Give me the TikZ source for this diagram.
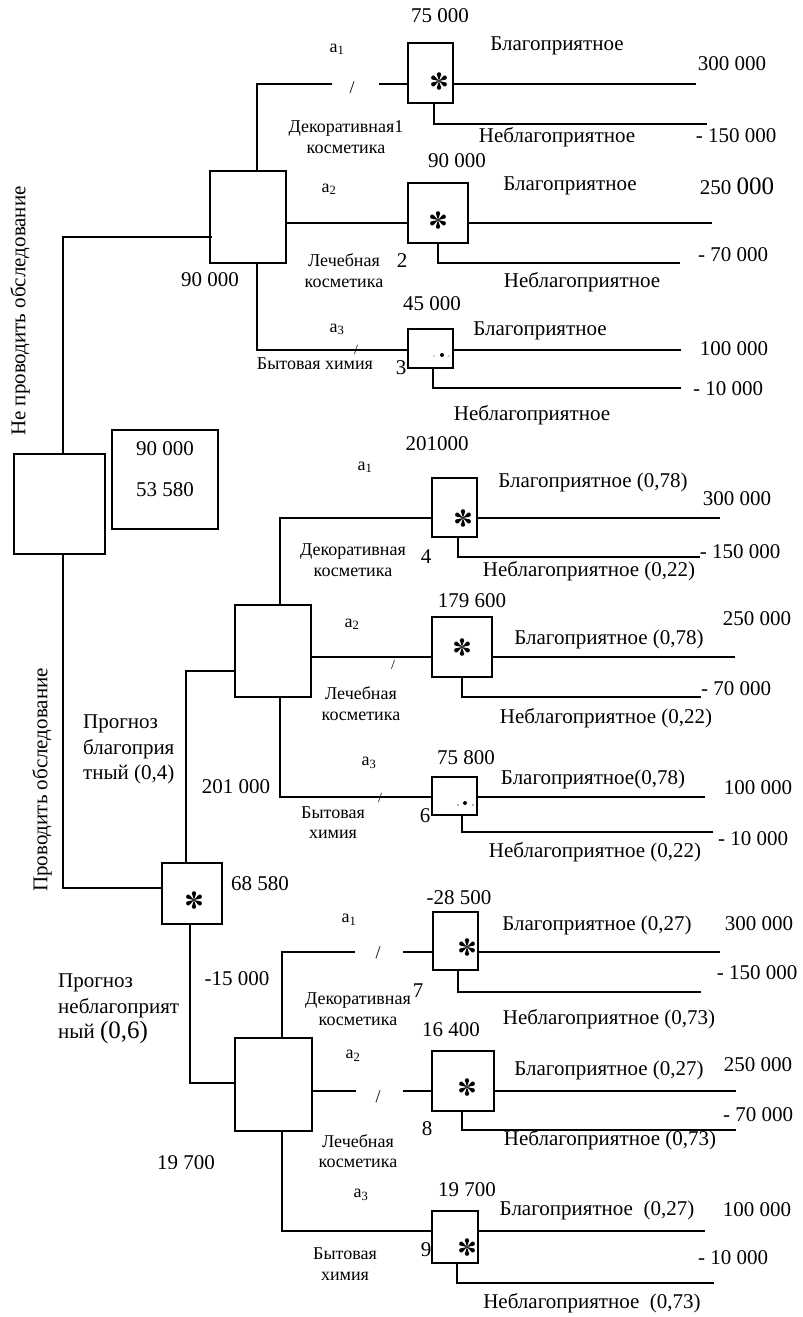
\documentclass[tikz,border=0pt]{standalone}
\usepackage{fontspec}
\setmainfont{Liberation Serif}
\newcommand\mainsz{\fontsize{21}{25.5}\selectfont}
\newcommand\smallsz{\fontsize{18}{20.5}\selectfont}
\newcommand\ticksz{\fontsize{14}{16}\selectfont}
\newcommand\bigsz{\fontsize{25}{28}\selectfont}
% payoff lines of a chance node: node, upper y, upper end x, knee x, lower y, lower end x
\newcommand\payoffs[6]{%
  \coordinate (#1up) at (#3,#2);
  \coordinate (#1kn) at (#4,#5);
  \coordinate (#1dn) at (#6,#5);
  \draw[wire] (#1.east |- #1up) -- (#1up);
  \draw[wire] (#1.south -| #1kn) -- (#1kn) -- (#1dn);
}
\tikzset{
  wire/.style={line width=1.6pt},
  dbox/.style={draw, line width=1.6pt, fill=white, inner sep=0pt},
  lab/.style={inner sep=0pt, font=\mainsz, text height=0.68em, text depth=0.2em},
  labs/.style={inner sep=0pt, font=\smallsz, text height=0.68em, text depth=0.2em},
  labtwo/.style={inner sep=0pt, font=\smallsz, align=center},
  labblock/.style={inner sep=0pt, font=\mainsz, align=left, anchor=west},
  slash/.style={inner sep=0pt, font=\smallsz},
  tickmark/.style={inner sep=0pt, font=\ticksz},
  % six teardrop spokes marking a chance node
  chancemark/.pic={
    \foreach \a in {90,30,-30,-90,-150,150}{
      \fill[rotate=\a] (0,0) -- (6.3,-2.0) -- (6.3,2.0) -- cycle (6.6,0) circle (2.2);
    }
  },
}
\begin{document}
\begin{tikzpicture}[x=1pt,y=-1pt]
\useasboundingbox (0,0) rectangle (803,1317);

% ---- boxes ----
\node[dbox, minimum width=91pt, minimum height=100pt] (root) at (59.5,504) {};
\node[dbox, minimum width=106pt, minimum height=99pt] (info) at (165,479.5) {};
\node[dbox, minimum width=76pt, minimum height=92pt] (D1) at (248,217) {};
\node[dbox, minimum width=45pt, minimum height=60pt] (C1) at (430.5,73) {};
\node[dbox, minimum width=60pt, minimum height=60pt] (C2) at (438,213) {};
\node[dbox, minimum width=45pt, minimum height=39pt] (C3) at (430.5,348.5) {};
\node[dbox, minimum width=60pt, minimum height=61pt] (S) at (192,893.5) {};
\node[dbox, minimum width=76pt, minimum height=92pt] (D2) at (273,651) {};
\node[dbox, minimum width=45pt, minimum height=59pt] (C4) at (454.5,507.5) {};
\node[dbox, minimum width=60pt, minimum height=60pt] (C5) at (462,647) {};
\node[dbox, minimum width=45pt, minimum height=38pt] (C6) at (454.5,796) {};
\node[dbox, minimum width=77pt, minimum height=93pt] (D3) at (273.5,1084.5) {};
\node[dbox, minimum width=45pt, minimum height=58pt] (C7) at (455.5,941) {};
\node[dbox, minimum width=62pt, minimum height=60pt] (C8) at (463,1081) {};
\node[dbox, minimum width=46pt, minimum height=52pt] (C9) at (455,1237) {};

% ---- chance marks ----
\pic (m1) at (439,81) {chancemark};
\pic (m2) at (438,220) {chancemark};
\pic (m4) at (463,518) {chancemark};
\pic (m5) at (462,647) {chancemark};
\pic (m7) at (467,947) {chancemark};
\pic (m8) at (467,1087) {chancemark};
\pic (m9) at (467,1247) {chancemark};
\pic (mS) at (194,900) {chancemark};
\fill (442,355) circle (2pt);
\fill[black!35] (434,356) circle (0.8pt);
\fill[black!35] (449,356) circle (0.8pt);
\fill (465,803) circle (2pt);
\fill[black!60] (458,805) circle (0.9pt);
\fill[black!60] (473,805) circle (0.9pt);

% ---- root connectors ----
\coordinate (k0) at (63,237);
\draw[wire] ([xshift=3pt]D1.west |- k0) -- (k0) -- (root.north -| k0);
\coordinate (k1) at (63,888);
\draw[wire] (root.south -| k1) -- (k1) -- (S.west |- k1);
\coordinate (k2) at (186,671);
\draw[wire] (S.north -| k2) -- (k2) -- (D2.west |- k2);
\coordinate (k3) at (190,1083);
\draw[wire] (S.south -| k3) -- (k3) -- (D3.west |- k3);

% ---- first decision ----
\coordinate (v1) at (257,84);
\coordinate (g1a) at (332,84);
\coordinate (g1b) at (379,84);
\draw[wire] (D1.north -| v1) -- (v1) -- (g1a);
\draw[wire] (g1b) -- (C1.west |- g1b);
\node[slash] (s1) at (352,88) {/};
\coordinate (h2) at (0,223);
\draw[wire] (D1.east |- h2) -- (C2.west |- h2);
\coordinate (v3) at (257,350);
\draw[wire] (D1.south -| v3) -- (v3) -- (C3.west |- v3);
\node[tickmark] (s3) at (356,350) {/};
\payoffs{C1}{84}{696}{434}{124}{707}
\payoffs{C2}{223}{712}{438}{263}{680}
\payoffs{C3}{350}{681}{433}{388}{681}

% ---- second decision ----
\coordinate (v4) at (280,518);
\draw[wire] (D2.north -| v4) -- (v4) -- (C4.west |- v4);
\coordinate (h5) at (0,657);
\draw[wire] (D2.east |- h5) -- (C5.west |- h5);
\node[tickmark] (s5) at (393,665) {/};
\coordinate (v6) at (280,797);
\draw[wire] (D2.south -| v6) -- (v6) -- (C6.west |- v6);
\node[tickmark] (s6) at (380,798) {/};
\payoffs{C4}{518}{720}{458}{557}{700}
\payoffs{C5}{657}{735}{462}{697}{701}
\payoffs{C6}{797}{705}{462}{832}{713}

% ---- third decision ----
\coordinate (v7) at (282,952);
\coordinate (g7a) at (355,952);
\coordinate (g7b) at (403,952);
\draw[wire] (D3.north -| v7) -- (v7) -- (g7a);
\draw[wire] (g7b) -- (C7.west |- g7b);
\node[slash] (s7) at (378,953) {/};
\coordinate (g8a) at (356,1091);
\coordinate (g8b) at (403,1091);
\draw[wire] (D3.east |- g8a) -- (g8a);
\draw[wire] (g8b) -- (C8.west |- g8b);
\node[slash] (s8) at (378,1097) {/};
\coordinate (v9) at (282,1231);
\draw[wire] (D3.south -| v9) -- (v9) -- (C9.west |- v9);
\payoffs{C7}{952}{720}{458}{992}{701}
\payoffs{C8}{1091}{736}{462}{1130}{736}
\payoffs{C9}{1231}{705}{457}{1283}{714}

% ---- left labels ----
\node[lab, rotate=90] (tno) at (23,311) {Не проводить обследование};
\node[lab, rotate=90] (tyes) at (45,780) {Проводить обследование};
\node[lab] (i1) at (165,453) {90 000};
\node[lab] (i2) at (165,494) {53 580};
\node[lab] (vD1) at (210,284) {90 000};
\node[labblock] (pg) at (83,749.5) {Прогноз\\благоприя\\тный (0,4)};
\node[lab] (vD2) at (236,791) {201 000};
\node[lab] (vS) at (260,888) {68 580};
\node[labblock] (pb) at (58,1009) {Прогноз\\неблагоприят\\ный {\bigsz(0,6)}};
\node[lab] (vD3) at (237,983) {-15 000};
\begin{scope}
  \clip (140,1140) rectangle (240,1168);
  \node[lab] (vD3b) at (186,1167) {19 700};
\end{scope}

% ---- labels, first decision ----
\node[lab] at (440,20) {75 000};
\node[labs] at (337,50) {a\textsubscript{1}};
\node[lab] at (557,48) {Благоприятное};
\node[lab] at (732,68) {300 000};
\node[labtwo] at (346,137) {Декоративная1\\косметика};
\node[lab] at (557,140) {Неблагоприятное};
\node[lab] at (736,140) {- 150 000};
\node[lab] at (457,165) {90 000};
\node[labs] at (329,190) {a\textsubscript{2}};
\node[lab] at (570,188) {Благоприятное};
\node[lab] at (737,192) {250 {\bigsz 000}};
\node[lab] at (733,259) {- 70 000};
\node[labtwo] at (344,270.5) {Лечебная\\косметика};
\node[lab] at (402,265) {2};
\node[lab] at (582,285) {Неблагоприятное};
\node[lab] at (432,308) {45 000};
\node[labs] at (337,330) {a\textsubscript{3}};
\node[lab] at (540,333) {Благоприятное};
\node[lab] at (734,353) {100 000};
\node[labs] at (315,367) {Бытовая химия};
\node[lab] at (401,372) {3};
\node[lab] at (728,393) {- 10 000};
\node[lab] at (532,418) {Неблагоприятное};

% ---- labels, second decision ----
\node[lab] at (437,448) {201000};
\node[labs] at (365,468) {a\textsubscript{1}};
\node[lab] at (593,485) {Благоприятное (0,78)};
\node[lab] at (737,503) {300 000};
\node[labtwo] at (353,560) {Декоративная\\косметика};
\node[lab] at (426,561) {4};
\node[lab] at (740,556) {- 150 000};
\node[lab] at (589,574) {Неблагоприятное (0,22)};
\node[lab] at (472,605) {179 600};
\node[labs] at (352,625) {a\textsubscript{2}};
\node[lab] at (757,623) {250 000};
\node[lab] at (609,642) {Благоприятное (0,78)};
\node[lab] at (736,693) {- 70 000};
\node[labtwo] at (361,703.5) {Лечебная\\косметика};
\node[lab] at (606,721) {Неблагоприятное (0,22)};
\node[labs] at (369,763) {a\textsubscript{3}};
\node[lab] at (466,762) {75 800};
\node[lab] at (593,782) {Благоприятное(0,78)};
\node[lab] at (758,792) {100 000};
\node[labtwo] at (333,822.5) {Бытовая\\химия};
\node[lab] at (425,820) {6};
\node[lab] at (753,843) {- 10 000};
\node[lab] at (595,855) {Неблагоприятное (0,22)};

% ---- labels, third decision ----
\node[lab] at (459,902) {-28 500};
\node[labs] at (349,920) {a\textsubscript{1}};
\node[lab] at (597,928) {Благоприятное (0,27)};
\node[lab] at (759,928) {300 000};
\node[lab] at (757,977) {- 150 000};
\node[labtwo] at (358,1009) {Декоративная\\косметика};
\node[lab] at (418,995) {7};
\node[lab] at (609,1022) {Неблагоприятное (0,73)};
\node[lab] at (451,1034) {16 400};
\node[labs] at (353,1056) {a\textsubscript{2}};
\node[lab] at (758,1069) {250 000};
\node[lab] at (609,1073) {Благоприятное (0,27)};
\node[lab] at (758,1119) {- 70 000};
\node[lab] at (427,1133) {8};
\node[lab] at (610,1143) {Неблагоприятное (0,73)};
\node[labtwo] at (358,1151) {Лечебная\\косметика};
\node[labs] at (361,1195) {a\textsubscript{3}};
\node[lab] at (467,1194) {19 700};
\node[lab] at (597,1213) {Благоприятное\ \ (0,27)};
\node[lab] at (757,1214) {100 000};
\node[lab] at (426,1254) {9};
\node[lab] at (733,1262) {- 10 000};
\node[labtwo] at (345,1264) {Бытовая\\химия};
\node[lab] at (592,1306) {Неблагоприятное\ \ (0,73)};
\end{tikzpicture}
\end{document}
